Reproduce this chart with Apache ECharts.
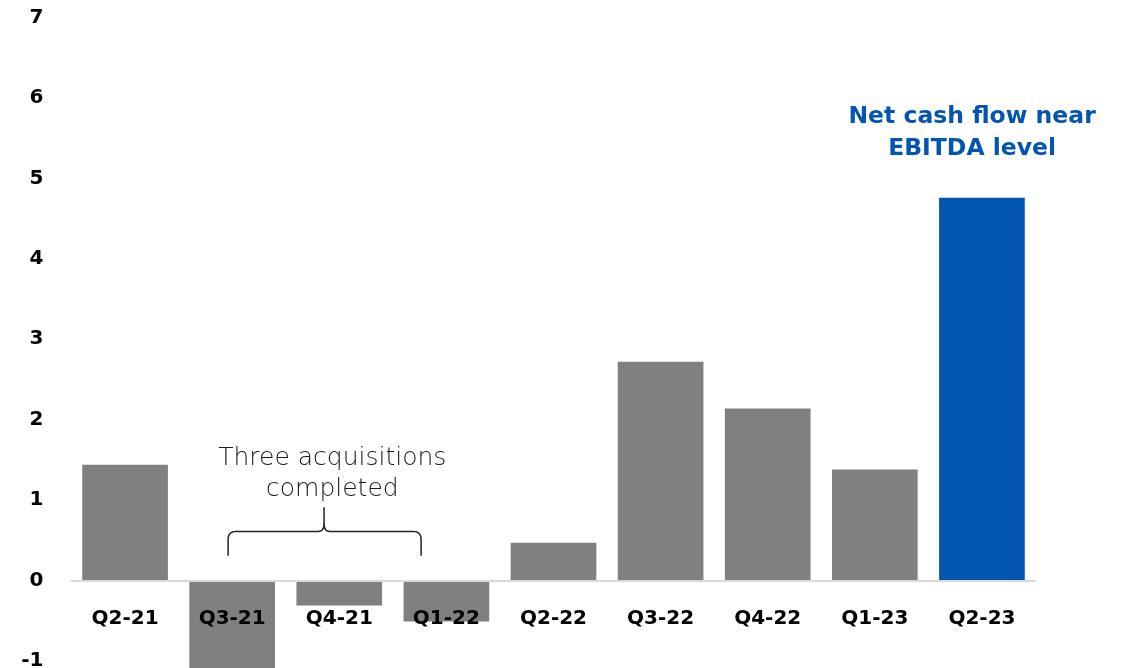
<!DOCTYPE html>
<html>
<head>
<meta charset="utf-8">
<title>Net cash flow by quarter</title>
<script src="https://cdn.jsdelivr.net/npm/echarts@6/dist/echarts.min.js"></script>
<style>
  html, body { margin: 0; padding: 0; background: #ffffff; }
  #chart { width: 1126px; height: 668px; }
</style>
</head>
<body>
<div id="chart"></div>
<script>
// Quarterly net cash flow
const quarters = ['Q2-21', 'Q3-21', 'Q4-21', 'Q1-22', 'Q2-22', 'Q3-22', 'Q4-22', 'Q1-23', 'Q2-23'];
const netCashFlow = [1.44, -1.1, -0.31, -0.51, 0.47, 2.72, 2.14, 1.38, 4.76];
const highlightIndex = 8;

// Value axis range
const yMin = -1;
const yMax = 7;
const yStep = 1;

// Annotations (category index, value)
const acquisitionNote = 'Three acquisitions\ncompleted';
const acquisitionNoteAt = [1.935, 1.32];
const braceFrom = 0.962, braceTo = 2.764, braceMid = 1.858;
const braceLevels = { foot: 0.31, bar: 0.61, tip: 0.91 };
const cashNote = 'Net cash flow near\nEBITDA level';
const cashNoteAt = [7.908, 5.56];

const GREY = '#808080';
const BLUE = '#0255b1';
const BOLD_FONT = '"DejaVu Sans", "Liberation Sans", sans-serif';

const chart = echarts.init(document.getElementById('chart'), null, { renderer: 'canvas' });

chart.setOption({
  animation: false,
  backgroundColor: '#ffffff',
  grid: {
    left: 71.5, right: 90.5, top: 17.5, bottom: 7,
    containLabel: false,
    outerBoundsMode: 'none'
  },
  xAxis: {
    type: 'category',
    data: quarters,
    z: 10,
    axisLine: { onZero: false, lineStyle: { color: '#d9d9d9', width: 2 } },
    axisTick: { show: false },
    axisLabel: {
      margin: 28,
      color: '#000000',
      fontFamily: BOLD_FONT,
      fontWeight: 'bold',
      fontSize: 20
    },
    splitLine: { show: false }
  },
  yAxis: {
    type: 'value',
    min: yMin,
    max: yMax,
    interval: yStep,
    axisLine: { show: false },
    axisTick: { show: false },
    splitLine: { show: false },
    axisLabel: {
      margin: 28,
      color: '#000000',
      fontFamily: BOLD_FONT,
      fontWeight: 'bold',
      fontSize: 20
    }
  },
  series: [{
    type: 'bar',
    clip: false,
    barCategoryGap: '20%',
    data: netCashFlow.map((v, i) => ({
      value: v,
      itemStyle: { color: i === highlightIndex ? BLUE : GREY }
    }))
  }]
});

// Map a (fractional) category index and value to pixels
function toPixel(idx, val) {
  const p0 = chart.convertToPixel({ gridIndex: 0 }, [0, val]);
  const p1 = chart.convertToPixel({ gridIndex: 0 }, [1, val]);
  return [p0[0] + (p1[0] - p0[0]) * idx, p0[1]];
}

// Move the category axis (line and labels) up to the zero level
const gridBottomY = toPixel(0, yMin)[1];
const zeroY = toPixel(0, 0)[1];
chart.setOption({ xAxis: { offset: -(gridBottomY - zeroY) } });

// Sample a quadratic curve into points
function quad(a, c, b, n) {
  const pts = [];
  for (let i = 1; i <= n; i++) {
    const t = i / n, u = 1 - t;
    pts.push([u * u * a[0] + 2 * u * t * c[0] + t * t * b[0],
              u * u * a[1] + 2 * u * t * c[1] + t * t * b[1]]);
  }
  return pts;
}

function drawAnnotations() {
  const xl = toPixel(braceFrom, 0)[0];
  const xr = toPixel(braceTo, 0)[0];
  const xm = toPixel(braceMid, 0)[0];
  const yFoot = toPixel(0, braceLevels.foot)[1];
  const yBar = toPixel(0, braceLevels.bar)[1];
  const yTip = toPixel(0, braceLevels.tip)[1];
  const r = 8;

  const leftHalf = [[xl, yFoot], [xl, yBar + r]]
    .concat(quad([xl, yBar + r], [xl, yBar], [xl + r, yBar], 8))
    .concat([[xm - 6, yBar]])
    .concat(quad([xm - 6, yBar], [xm, yBar], [xm, yBar - 8], 8))
    .concat([[xm, yTip]]);
  const rightHalf = [[xr, yFoot], [xr, yBar + r]]
    .concat(quad([xr, yBar + r], [xr, yBar], [xr - r, yBar], 8))
    .concat([[xm + 6, yBar]])
    .concat(quad([xm + 6, yBar], [xm, yBar], [xm, yBar - 8], 8));

  const acqPos = toPixel(acquisitionNoteAt[0], acquisitionNoteAt[1]);
  const cashPos = toPixel(cashNoteAt[0], cashNoteAt[1]);

  const braceStyle = { fill: null, stroke: '#222222', lineWidth: 1.5 };

  chart.setOption({
    graphic: [
      { type: 'polyline', shape: { points: leftHalf }, style: braceStyle, z: 20 },
      { type: 'polyline', shape: { points: rightHalf }, style: braceStyle, z: 20 },
      {
        type: 'text',
        x: acqPos[0],
        y: acqPos[1],
        z: 20,
        style: {
          text: acquisitionNote,
          fill: '#1a1a1a',
          font: '200 25px "DejaVu Sans", "Open Sans", sans-serif',
          lineHeight: 31,
          align: 'center',
          verticalAlign: 'middle'
        }
      },
      {
        type: 'text',
        x: cashPos[0],
        y: cashPos[1],
        z: 20,
        style: {
          text: cashNote,
          fill: BLUE,
          font: 'bold 23.5px ' + BOLD_FONT,
          lineHeight: 32,
          align: 'center',
          verticalAlign: 'middle'
        }
      }
    ]
  });
}

drawAnnotations();
</script>
</body>
</html>
